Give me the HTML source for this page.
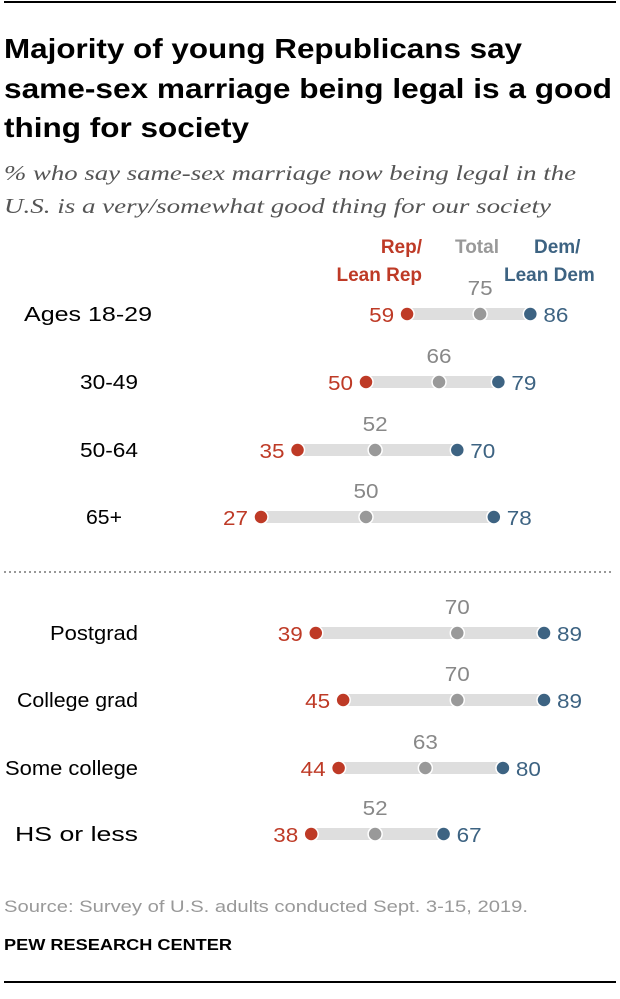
<!DOCTYPE html>
<html><head><meta charset="utf-8"><style>
body{margin:0;background:#fff;width:620px;height:994px;overflow:hidden;font-family:"Liberation Sans",sans-serif}
</style></head><body>
<svg width="620" height="994" xmlns="http://www.w3.org/2000/svg">
<line x1="4" y1="2" x2="616" y2="2" stroke="#000" stroke-width="2"/>
<g font-weight="bold" font-size="28" fill="#000">
<text x="4" y="58" textLength="518" lengthAdjust="spacingAndGlyphs">Majority of young Republicans say</text>
<text x="4" y="98" textLength="608" lengthAdjust="spacingAndGlyphs">same-sex marriage being legal is a good</text>
<text x="4" y="137" textLength="245" lengthAdjust="spacingAndGlyphs">thing for society</text>
</g>
<g font-family="Liberation Serif,serif" font-style="italic" font-size="21" fill="#555">
<text x="4" y="180" textLength="572" lengthAdjust="spacingAndGlyphs">% who say same-sex marriage now being legal in the</text>
<text x="4" y="213" textLength="547" lengthAdjust="spacingAndGlyphs">U.S. is a very/somewhat good thing for our society</text>
</g>
<g font-size="19" font-weight="bold">
<text x="422" y="253" text-anchor="end" fill="#be3a26">Rep/</text>
<text x="422" y="281" text-anchor="end" fill="#be3a26">Lean Rep</text>
<text x="477" y="253" text-anchor="middle" fill="#999">Total</text>
<text x="534" y="253" fill="#3d6382">Dem/</text>
<text x="504" y="281" fill="#3d6382">Lean Dem</text>
</g>
<line x1="4" y1="572" x2="612" y2="572" stroke="#777" stroke-width="1.5" stroke-dasharray="2,3"/>
<g id="rows"></g>
<text x="4" y="912" font-size="17" fill="#999" textLength="524" lengthAdjust="spacingAndGlyphs">Source: Survey of U.S. adults conducted Sept. 3-15, 2019.</text>
<text x="4" y="950" font-size="16" font-weight="bold" fill="#000" textLength="228" lengthAdjust="spacingAndGlyphs">PEW RESEARCH CENTER</text>
<line x1="4" y1="982" x2="616" y2="982" stroke="#000" stroke-width="2"/>
</svg>
<script>
const categories=["Ages 18-29","30-49","50-64","65+","Postgrad","College grad","Some college","HS or less"];
const repValues=[59,50,35,27,39,45,44,38];
const totalValues=[75,66,52,50,70,70,63,52];
const demValues=[86,79,70,78,89,89,80,67];
const rowY=[314,382,450,517,633,700,768,834];
const labelX=[152,138,138,122,138,138,138,138];
const labelW=[128,58,58,36,88,121,133,123];
function x(v){return 261+(v-27)*4.565;}
const NS="http://www.w3.org/2000/svg";
const g=document.getElementById('rows');
function mk(t,a){const e=document.createElementNS(NS,t);for(const k in a)e.setAttribute(k,a[k]);g.appendChild(e);return e;}
const NW=25;
categories.forEach((c,i)=>{
 const y=rowY[i];
 let e=mk('text',{x:labelX[i]-labelW[i],y:y+7,'font-size':20,fill:'#000',textLength:labelW[i],lengthAdjust:'spacingAndGlyphs'});e.textContent=c;
 
 
 e=mk('rect',{x:x(repValues[i]),y:y-6,width:x(demValues[i])-x(repValues[i]),height:12,fill:'#dedede'});
 
 
 e=mk('circle',{cx:x(totalValues[i]),cy:y,r:7,fill:'#999',stroke:'#fff','stroke-width':1.5});
 
 
 e=mk('circle',{cx:x(repValues[i]),cy:y,r:7,fill:'#be3a26',stroke:'#fff','stroke-width':1.5});
 
 
 e=mk('circle',{cx:x(demValues[i]),cy:y,r:7,fill:'#3d6382',stroke:'#fff','stroke-width':1.5});
 
 
 e=mk('text',{x:x(repValues[i])-13-NW,y:y+8,'font-size':20,fill:'#be3a26',textLength:NW,lengthAdjust:'spacingAndGlyphs'});e.textContent=repValues[i];
 
 
 e=mk('text',{x:x(totalValues[i])-NW/2,y:y-19,'font-size':20,fill:'#888',textLength:NW,lengthAdjust:'spacingAndGlyphs'});e.textContent=totalValues[i];
 
 
 e=mk('text',{x:x(demValues[i])+13,y:y+8,'font-size':20,fill:'#3d6382',textLength:NW,lengthAdjust:'spacingAndGlyphs'});e.textContent=demValues[i];
 
 
});
</script>
</body></html>
